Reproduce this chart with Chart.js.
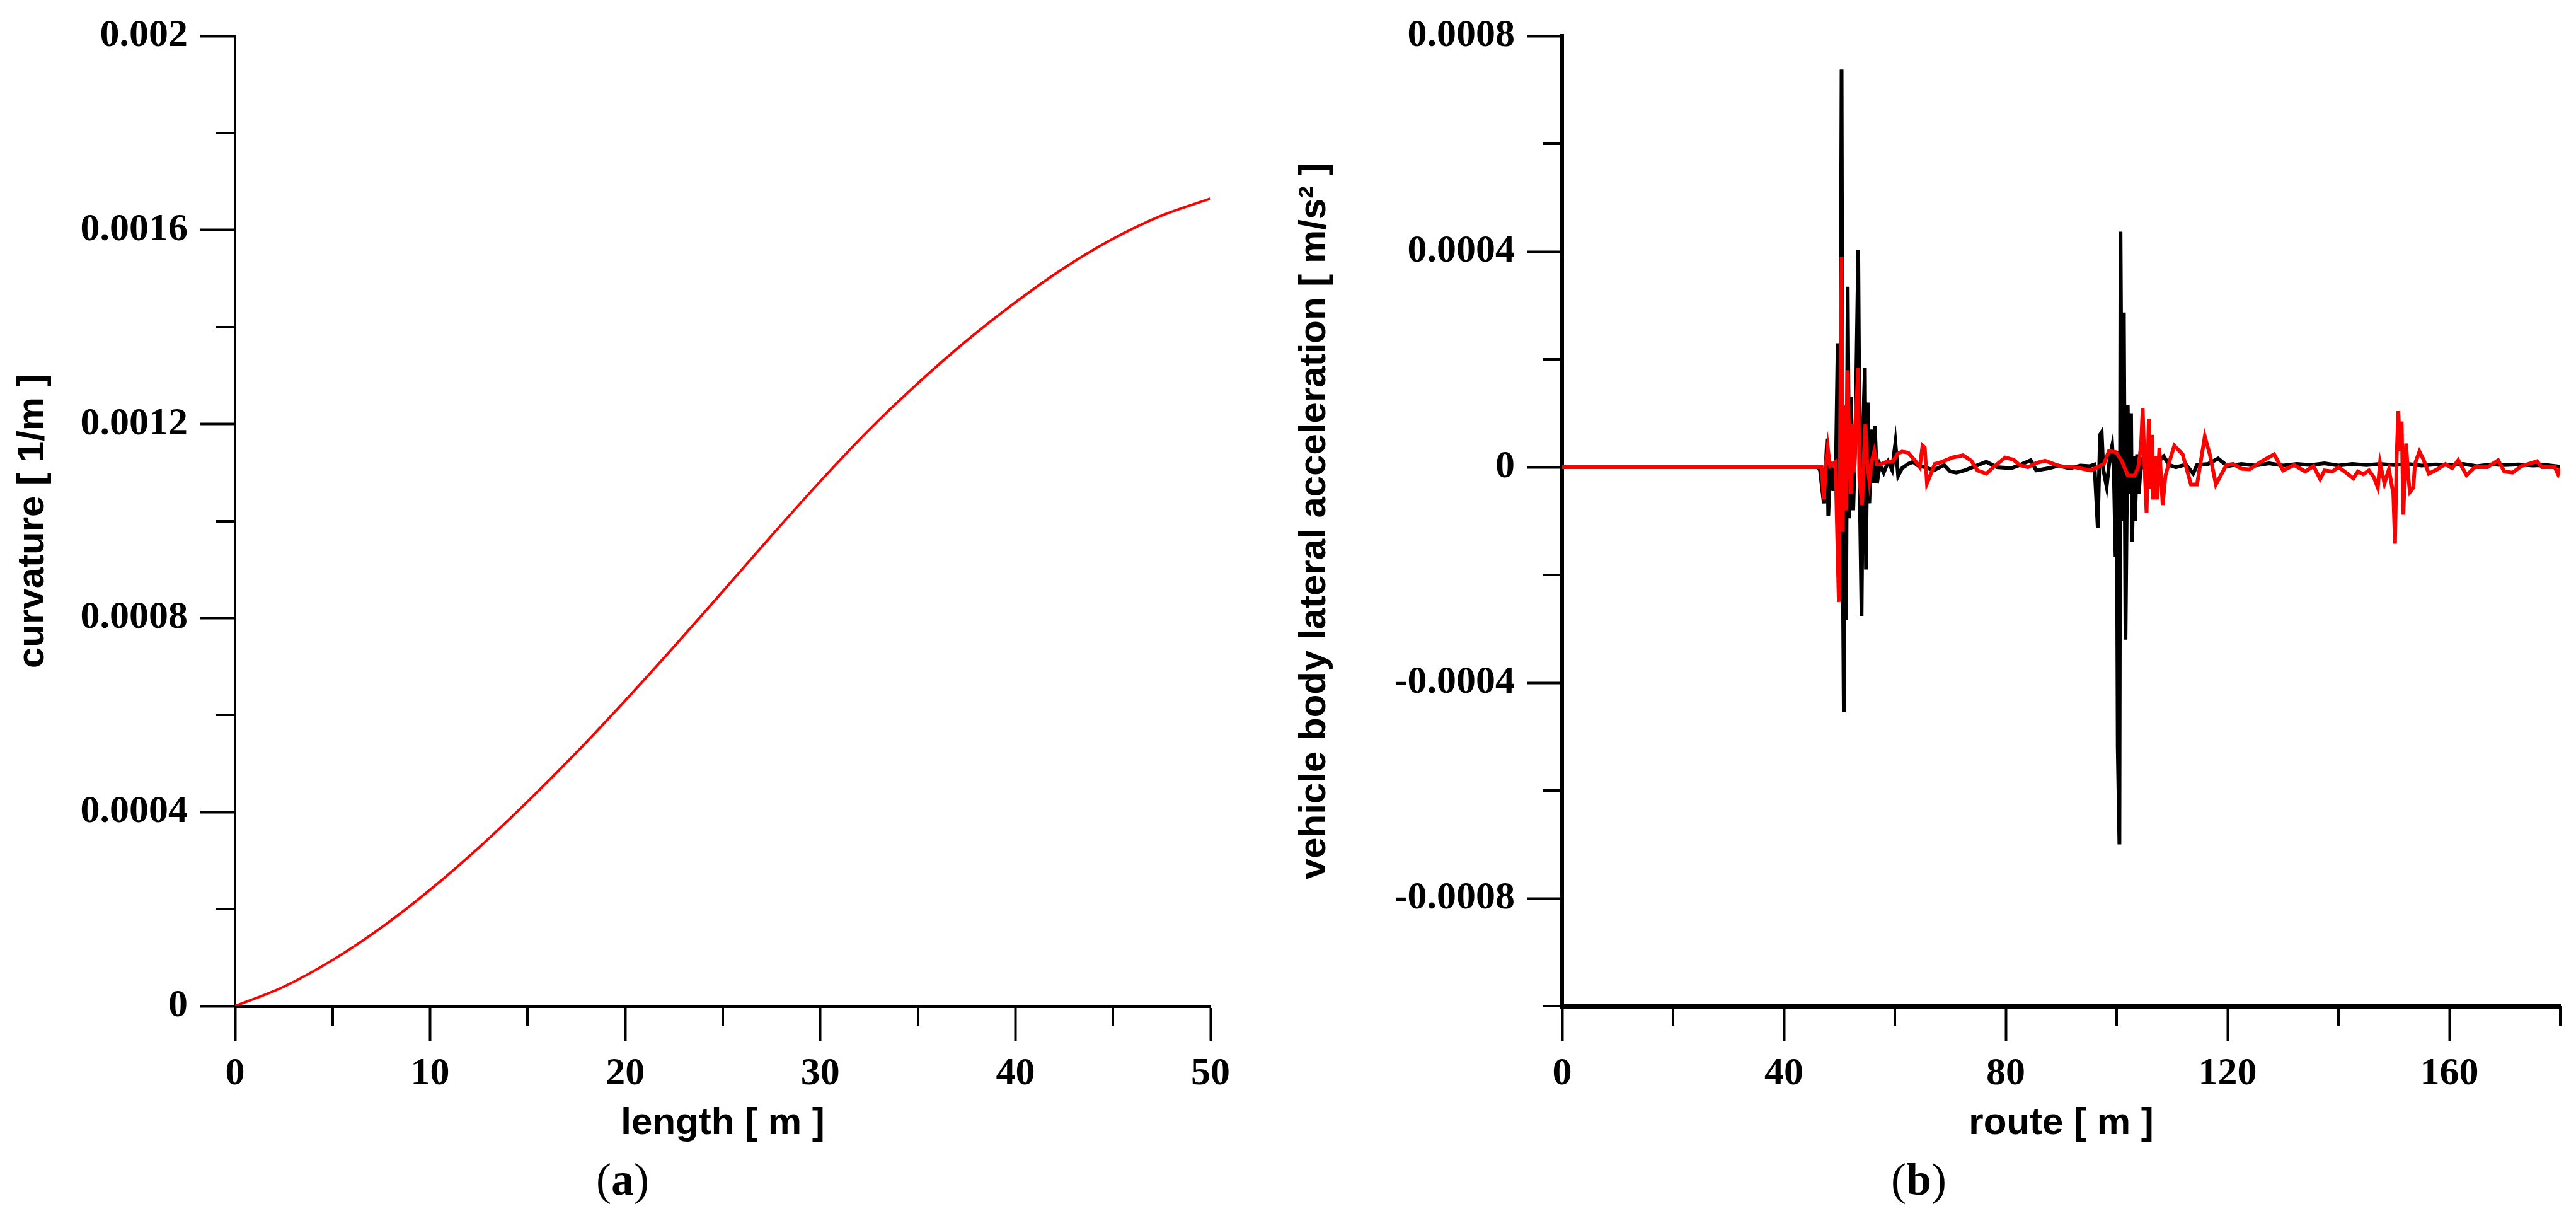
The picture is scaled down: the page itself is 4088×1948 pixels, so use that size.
<!DOCTYPE html>
<html>
<head>
<meta charset="utf-8">
<script src="https://cdn.jsdelivr.net/npm/chart.js@4.4.1/dist/chart.umd.min.js"></script>
<style>
body { margin: 0; width: 4088px; height: 1948px; background: #fff; position: relative; overflow: hidden; }
canvas { position: absolute; top: 0; }
#grafico1 { left: 0; }
#grafico2 { left: 2002px; }
.rotulo { position: absolute; top: 1826px; width: 200px; text-align: center; font-family: "Liberation Serif"; font-size: 72px; line-height: 90px; color: #000; }
</style>
</head>
<body>
<canvas id="grafico1" width="1976" height="1948"></canvas>
<canvas id="grafico2" width="2086" height="1948"></canvas>
<div class="rotulo" style="left:888px">(<b>a</b>)</div>
<div class="rotulo" style="left:2945px">(<b>b</b>)</div>
<script>
// (a) curvatura ao longo do comprimento
var comprimento = [0, 2.5, 5, 7.5, 10, 12.5, 15, 17.5, 20, 22.5, 25, 27.5, 30, 32.5, 35, 37.5, 40, 42.5, 45, 47.5, 50];
var curvatura = [0, 0.000040, 0.000095, 0.000162, 0.000240, 0.000327, 0.000422, 0.000523, 0.000630, 0.000741, 0.000855,
    0.000970, 0.001082, 0.001188, 0.001284, 0.001372, 0.001451, 0.001522, 0.001582, 0.001630, 0.001665];
var xTicksA = [0, 10, 20, 30, 40, 50];
var xMinorA = [5, 15, 25, 35, 45];
var yTicksA = [0, 0.0004, 0.0008, 0.0012, 0.0016, 0.002];
var yMinorA = [0.0002, 0.0006, 0.001, 0.0014, 0.0018];

// (b) aceleracao lateral - curva preta
var rotaPreta = [0, 46.0, 46.5, 47.2, 47.8, 48.0, 48.4, 48.9, 49.4, 49.7, 49.9, 50.2, 50.4, 50.6, 50.8, 51.0, 51.2, 51.5, 51.8, 52.1,
    52.5, 52.9, 53.4, 53.7, 54.0, 54.3, 54.6, 54.8, 55.1, 55.4, 55.8, 56.1, 56.4, 56.8, 57.3, 58.0, 58.8, 59.5, 60.1, 60.6,
    61.3, 62.4, 63.3, 64.3, 65.5, 67.0, 68.9, 70.0, 71.1, 72.6, 74.5, 76.5, 78.4, 81.0, 82.5, 84.5, 85.5, 87.8, 89.5, 91.5,
    93.5, 95.2, 96.0, 96.6, 97.0, 97.3, 97.6, 98.2, 98.8, 99.2, 99.5, 99.8, 100.0, 100.2, 100.5, 100.7, 101.0, 101.3, 101.6, 102.0,
    102.3, 102.6, 102.8, 103.1, 103.3, 103.7, 104.0, 104.4, 104.7, 106.0, 107.0, 108.5, 109.5, 110.7, 112.5, 113.8, 114.5, 116.5, 118.3, 120,
    122.5, 125, 127.5, 130, 132.5, 135, 137.5, 140, 142.5, 145, 147.5, 150, 152.5, 155, 157.5, 160, 162.5, 165, 167.5, 170,
    172.5, 175, 177.5, 180];
var acelPreta = [0, 0, -0.000005, -0.000067, 0.000053, -0.00009, 0.00001, -0.000044, 0.00002, 0.00023, -0.000206, 0.00012, 0.000738, -0.00015, -0.000455, 0.0001, -0.000284, 0.000335, -0.000095, 0.00013,
    -0.00008, 0.00006, 0.000403, -0.00006, -0.000276, 0.00008, 0.000184, -0.00019, 0.00012, -0.000067, 0.00007, -0.000029, 0.000076, -0.000029, 0.000005, -0.00001, 0.00001, -0.000005, 0.000045, -0.000016,
    -0.000002, 0.000006, 0.00001, 0.000002, 0, -0.000006, 0.000004, -0.000008, -0.00001, -0.000006, 0.000002, 0.00001, 0, -0.000002, 0.000004, 0.000013, -0.000006, -0.000002, 0.000003, -0.000002,
    0.000003, 0.000002, 0.000005, -0.000113, 0.00006, 0.000065, -0.000005, -0.000036, 0.00002, 0.00004, -0.00001, -0.000166, 0.00003, -0.00052, -0.0007, 0.000437, -0.0001, 0.000287, -0.00032, 0.000115,
    -0.00005, 0.0001, -0.000138, 0.00002, -0.0001, 0.000024, -0.00005, 0.00001, 0, -0.000008, 0.000005, 0.00002, 0.000004, 0, 0.000005, -0.000012, 0.000004, 0.000006, 0.000016, 0.000002,
    0.000006, 0.000003, 0.000007, 0.000003, 0.000006, 0.000004, 0.000007, 0.000003, 0.000006, 0.000004, 0.000006, 0.000004, 0.000006, 0.000003, 0.000005, 0.000004, 0.000006, 0.000002, 0.000005, 0.000004,
    0.000005, 0.000003, 0.000004, 0.000001];

// (b) aceleracao lateral - curva vermelha
var rotaVermelha = [0, 46.8, 47.2, 47.6, 47.9, 48.3, 48.7, 49.3, 49.6, 49.9, 50.1, 50.4, 50.6, 50.8, 51.0, 51.2, 51.5, 51.8, 52.1, 52.4,
    52.7, 53.0, 53.4, 53.6, 54.1, 54.4, 54.7, 55.0, 55.4, 55.8, 56.3, 56.8, 57.4, 58.5, 59.6, 60.5, 61.3, 62.4, 63.6, 64.5,
    65.0, 65.4, 65.8, 66.2, 67.2, 68.5, 70.4, 72.3, 73.8, 74.9, 76.5, 78.0, 79.9, 81.4, 82.5, 84.0, 85.5, 87.1, 89.7, 92.4,
    95.4, 97.7, 98.6, 99.9, 100.9, 102.0, 103.2, 103.9, 104.4, 104.7, 105.0, 105.4, 105.8, 106.2, 106.4, 106.6, 107.0, 107.3, 107.7, 108.3,
    108.8, 109.5, 110.4, 111.9, 113.4, 114.5, 115.9, 116.8, 117.9, 119.8, 121, 122.5, 124, 126, 128.4, 130, 132, 134, 135.5, 136.7,
    137.5, 138.9, 140, 141.1, 142.7, 143.5, 144.5, 145.5, 146.4, 147.1, 147.5, 148.3, 149.1, 149.9, 150.2, 150.5, 150.8, 151.1, 151.4, 151.7,
    152.2, 152.6, 152.9, 153.5, 153.8, 154.6, 155.3, 156.3, 157.8, 159.3, 160.5, 161.6, 163.1, 164.6, 166.9, 168.8, 169.9, 171.4, 173.0, 175.8,
    176.7, 179.0, 179.6, 180];
var acelVermelha = [0, 0, -0.00006, 0.00001, 0.000037, 0.000002, 0.000005, 0.00001, -0.00012, -0.00025, 0.00002, 0.00039, -0.00012, 0.00006, 0.000115, -0.00008, 0.00018, 0.00002, -0.00005, 0.00008,
    -0.00001, 0.0001, 0.000184, -0.00002, -0.00007, 0.00002, 0.00008, 0.00001, -0.000025, 0.00001, 0.00003, 0.000005, 0.000005, 0.00001, 0.00001, 0.000025, 0.000029, 0.000027, 0.000013, 0,
    0.00004, 0.000036, -0.00003, -0.00002, 0.000006, 0.00001, 0.000018, 0.000022, 0.000012, -0.000006, -0.000012, 0.000002, 0.000018, 0.000014, 0.000004, 0, 0.000008, 0.000012, 0.000002, 0,
    -0.000006, 0.000006, 0.00003, 0.000028, 0.000012, -0.000015, -0.000016, 0, 0.00004, 0.000109, 0.00001, -0.000085, 0.00009, -0.00004, 0.00006, -0.00006, 0.00002, -0.00006, 0.000036, -0.00007,
    -0.000016, 0.00001, 0.00004, 0.000024, -0.000032, -0.000032, 0.000057, 0.000024, -0.000032, 0.000004, 0.000006, -0.000003, -0.000004, 0.00001, 0.000024, -0.000006, 0.000004, -0.000008, 0.000002, -0.000022,
    -0.000006, -0.000008, 0, -0.000008, -0.000021, -0.000008, -0.000013, -0.000006, -0.000019, -0.000038, 0.000008, -0.00003, -0.000004, -0.00005, -0.000142, 0.00002, 0.000104, 0.00003, 0.000085, -0.000088,
    0.000044, -0.00002, -0.000046, -0.000038, 0.000006, 0.000029, 0.000015, -0.000012, -0.000004, 0.000006, -0.000002, 0.000013, -0.000015, 0, 0, 0.000013, -0.000008, -0.00001, 0.000002, 0.000011,
    0, 0, -0.000013, -0.000002];
var xTicksB = [0, 40, 80, 120, 160];
var xMinorB = [20, 60, 100, 140, 180];
var yTicksB = [-0.0008, -0.0004, 0, 0.0004, 0.0008];
var yMinorB = [-0.001, -0.0006, -0.0002, 0.0002, 0.0006];

var fonteTicks = { family: 'Liberation Serif', weight: 'bold', size: 62 };
var fonteTitulo = { family: 'Liberation Sans', weight: 'bold', size: 60 };

function pontos(xs, ys) {
    return xs.map(function (x, i) { return { x: x, y: ys[i] }; });
}

// tracos menores (sem rotulo) desenhados pela escala do proprio grafico
var tiquinhos = {
    id: 'tiquinhos',
    afterDraw: function (chart) {
        var m = chart.options.plugins.tiquinhos;
        var ctx = chart.ctx, area = chart.chartArea;
        ctx.save();
        ctx.strokeStyle = '#000';
        ctx.lineWidth = 4;
        ctx.beginPath();
        m.x.forEach(function (v) {
            var px = Math.round(chart.scales.x.getPixelForValue(v));
            ctx.moveTo(px, area.bottom);
            ctx.lineTo(px, area.bottom + 31);
        });
        m.y.forEach(function (v) {
            var py = Math.round(chart.scales.y.getPixelForValue(v));
            ctx.moveTo(area.left, py);
            ctx.lineTo(area.left - 30, py);
        });
        ctx.stroke();
        ctx.restore();
    }
};

function eixo(min, max, marcas, titulo, borda, tamanho, horizontal) {
    return {
        type: 'linear',
        min: min,
        max: max,
        afterBuildTicks: function (s) { s.ticks = marcas.map(function (v) { return { value: v }; }); },
        afterFit: function (s) { if (horizontal) { s.height = tamanho; } else { s.width = tamanho; } },
        ticks: {
            font: fonteTicks, color: '#000', padding: horizontal ? 16 : 20,
            maxRotation: 0, autoSkip: false,
            callback: function (v) { return String(v); }
        },
        grid: { display: true, drawOnChartArea: false, drawTicks: true, tickLength: 55, tickWidth: 4, tickColor: '#000' },
        border: { display: true, color: '#000', width: borda },
        title: { display: true, text: titulo, font: fonteTitulo, color: '#000', padding: 0 }
    };
}

function criarGrafico(idDaDiv, datasets, escalas, margens, menores) {
    var ctx = document.getElementById(idDaDiv).getContext('2d');
    return new Chart(ctx, {
        type: 'line',
        data: { datasets: datasets },
        options: {
            responsive: false,
            animation: false,
            devicePixelRatio: 1,
            layout: { padding: margens },
            elements: { point: { radius: 0 } },
            scales: escalas,
            plugins: { legend: { display: false }, tooltip: { enabled: false }, tiquinhos: menores }
        },
        plugins: [tiquinhos]
    });
}

criarGrafico('grafico1',
    [{ data: pontos(comprimento, curvatura), borderColor: '#ff0000', borderWidth: 4, cubicInterpolationMode: 'monotone', fill: false }],
    {
        x: eixo(0, 50, xTicksA, 'length [ m ]', 5, 222, true),
        y: eixo(0, 0.002, yTicksA, 'curvature [ 1/m ]', 3, 357, false)
    },
    { left: 16, top: 50, right: 55, bottom: 130 },
    { x: xMinorA, y: yMinorA });

criarGrafico('grafico2',
    [
        { data: pontos(rotaVermelha, acelVermelha), borderColor: '#ff0000', borderWidth: 6, tension: 0, fill: false },
        { data: pontos(rotaPreta, acelPreta), borderColor: '#000000', borderWidth: 6, tension: 0, fill: false }
    ],
    {
        x: eixo(0, 180, xTicksB, 'route [ m ]', 7, 222, true),
        y: eixo(-0.001, 0.0008, yTicksB, 'vehicle body lateral acceleration [ m/s\u00b2 ]', 6, 429, false)
    },
    { left: 48, top: 50, right: 25, bottom: 130 },
    { x: xMinorB, y: yMinorB });
</script>
</body>
</html>
